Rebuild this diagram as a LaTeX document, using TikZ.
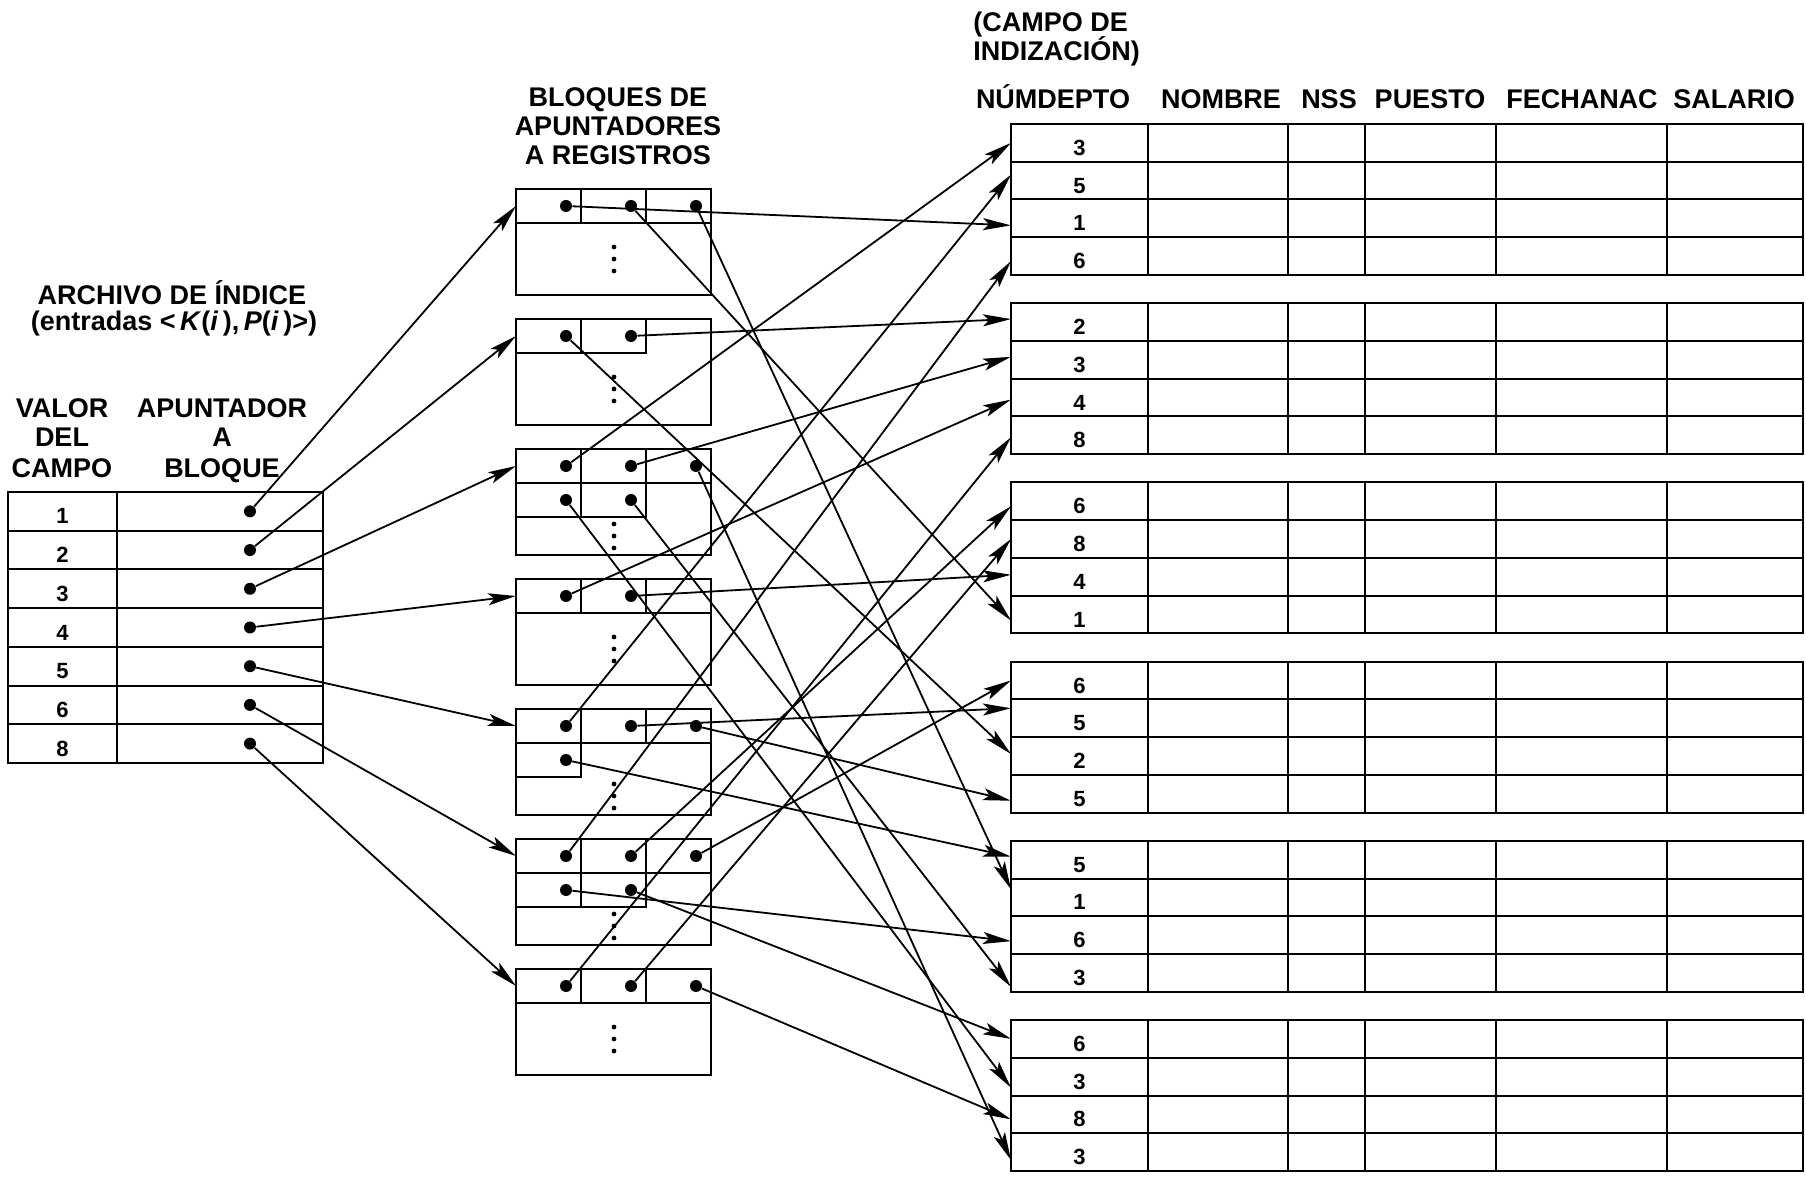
\documentclass[tikz,border=0pt]{standalone}
\usepackage{fontspec}
\setmainfont{Liberation Sans}
\usetikzlibrary{arrows.meta}
\begin{document}
\begin{tikzpicture}[x=0.5pt,y=-0.5pt,
  lbl/.style={font=\fontsize{13.5}{15}\selectfont\bfseries, inner sep=0, anchor=base},
  lblw/.style={lbl, anchor=base west},
  num/.style={font=\fontsize{11}{12}\selectfont\bfseries, inner sep=0},
  grid/.style={line width=1pt},
  vcell/.style={minimum width=54.5pt, minimum height=19.35pt, inner sep=0, outer sep=0, anchor=north west},
  qcell/.style={minimum width=103pt, minimum height=19.35pt, inner sep=0, outer sep=0, anchor=north west},
  fcell/.style={minimum width=68.5pt, minimum height=18.875pt, inner sep=0, outer sep=0, anchor=north west},
  blk/.style={draw, line width=1pt, minimum width=97.5pt, minimum height=53pt, inner sep=0, outer sep=0, anchor=north west},
  pcell/.style={draw, line width=1pt, minimum width=32.5pt, minimum height=17pt, inner sep=0, outer sep=0, anchor=north west},
  ptr/.style={circle, fill=black, minimum size=6pt, inner sep=0},
  arr/.style={line width=0.9pt, -{Stealth[length=14pt, width=6pt, inset=3pt]}}
]
\fill[white] (0,0) rectangle (1806,1181);
\useasboundingbox (0,0) rectangle (1806,1181);

% ---------- index file ----------
\node[lbl] (idxtitle) at (172,305) {ARCHIVO DE ÍNDICE};
\node[lbl] (idxsub) at (174,331) {(entradas <\,\textit{K}(\textit{i}\,),\,\textit{P}(\textit{i}\,)>)};
\node[lbl] (valA) at (62,418) {VALOR};
\node[lbl] (valB) at (62,447) {DEL};
\node[lbl] (valC) at (62,478) {CAMPO};
\node[lbl] (apA) at (222,418) {APUNTADOR};
\node[lbl] (apB) at (222,447) {A};
\node[lbl] (apC) at (222,478) {BLOQUE};

\draw[grid] (8,492) rectangle (323,763);
\draw[grid] (117,492) -- (117,763);
\foreach \j/\v in {1/1,2/2,3/3,4/4,5/5,6/6,7/8} {
  \pgfmathsetmacro\rtop{492+38.71*(\j-1)}
  \node[vcell] (v\j) at (8,\rtop) {};
  \node[qcell] (q\j) at (117,\rtop) {};
  \node[num] (v\j n) at ([yshift=-2.5pt]v\j.center) {\v};
  \node[ptr] (i\j) at (250,{\rtop+19.35}) {};
  \ifnum\j>1 \draw[grid] (8,\rtop) -- (323,\rtop); \fi
}

% ---------- blocks of record pointers ----------
\node[lbl] (blA) at (618,107) {BLOQUES DE};
\node[lbl] (blB) at (618,136) {APUNTADORES};
\node[lbl] (blC) at (618,164.5) {A REGISTROS};

\foreach \k/\cells in {1/{1/1,1/2,1/3}, 2/{1/1,1/2}, 3/{1/1,1/2,1/3,2/1,2/2},
    4/{1/1,1/2}, 5/{1/1,1/2,1/3,2/1}, 6/{1/1,1/2,1/3,2/1,2/2}, 7/{1/1,1/2,1/3}} {
  \pgfmathsetmacro\btop{189+130*(\k-1)}
  \node[blk] (b\k) at (516,\btop) {};
  \foreach \r/\c in \cells {
    \node[pcell] (b\k-\r-\c) at ({516+65*(\c-1)},{\btop+34*(\r-1)}) {};
    \node[ptr] (p\k-\r-\c) at ({566+65*(\c-1)},{\btop+17+34*(\r-1)}) {};
  }
}
% empty third cell of block 4
\node[pcell] (b4-1-3) at (646,579) {};

% vertical ellipses inside the blocks
\foreach \yc in {259,389,536,649,796,926,1039} {
  \foreach \dd in {-12,0,12}
    \fill (614,\yc+\dd) circle (1.2pt);
}

% index pointers to the blocks
\foreach \j in {1,...,7}
  \draw[arr] (i\j) -- (b\j-1-1.west);

% ---------- data file ----------
\node[lblw] (cdA) at (973,32) {(CAMPO DE};
\node[lblw] (cdB) at (973,61) {INDIZACIÓN)};
\node[lbl] (hA) at (1053,109) {NÚMDEPTO};
\node[lbl] (hB) at (1221,109) {NOMBRE};
\node[lbl] (hC) at (1329,109) {NSS};
\node[lbl] (hD) at (1430,109) {PUESTO};
\node[lbl] (hE) at (1582,109) {FECHANAC};
\node[lbl] (hF) at (1734,109) {SALARIO};

\foreach \k/\a/\b/\c/\e in {1/3/5/1/6, 2/2/3/4/8, 3/6/8/4/1, 4/6/5/2/5, 5/5/1/6/3, 6/6/3/8/3} {
  \pgfmathsetmacro\ftop{124+179.2*(\k-1)}
  \draw[grid] (1011,\ftop) rectangle (1803,{\ftop+151});
  \foreach \xx in {1148,1288,1365,1496,1667}
    \draw[grid] (\xx,\ftop) -- (\xx,{\ftop+151});
  \foreach \j/\v in {1/\a,2/\b,3/\c,4/\e} {
    \node[fcell] (f\k-\j) at (1011,{\ftop+37.75*(\j-1)}) {};
    \node[num] (f\k-\j n) at ([yshift=-2.5pt]f\k-\j.center) {\v};
  }
  \foreach \j in {1,2,3}
    \draw[grid] (1011,{\ftop+37.75*\j}) -- (1803,{\ftop+37.75*\j});
}

% record pointers to the data records
\foreach \s/\t/\dy in {1-1-1/1-3/-3.5, 1-1-2/3-4/-3, 1-1-3/5-2/4,
    2-1-1/4-3/1, 2-1-2/2-1/1.5,
    3-1-1/1-1/0, 3-1-2/2-2/1.5, 3-1-3/6-4/-4, 3-2-1/6-2/-5.5, 3-2-2/5-4/-7,
    4-1-1/2-3/-1, 4-1-2/3-3/1,
    5-1-1/1-2/3, 5-1-2/4-2/5, 5-1-3/4-4/-3.5, 5-2-1/5-1/1.5,
    6-1-1/1-4/-2.5, 6-1-2/3-1/-2.5, 6-1-3/4-1/0, 6-2-1/5-3/-3, 6-2-2/6-1/0,
    7-1-1/2-4/-1, 7-1-2/3-2/0, 7-1-3/6-3/-2.5}
  \draw[arr] (p\s) -- ([yshift=\dy pt]f\t.west);
\end{tikzpicture}
\end{document}
